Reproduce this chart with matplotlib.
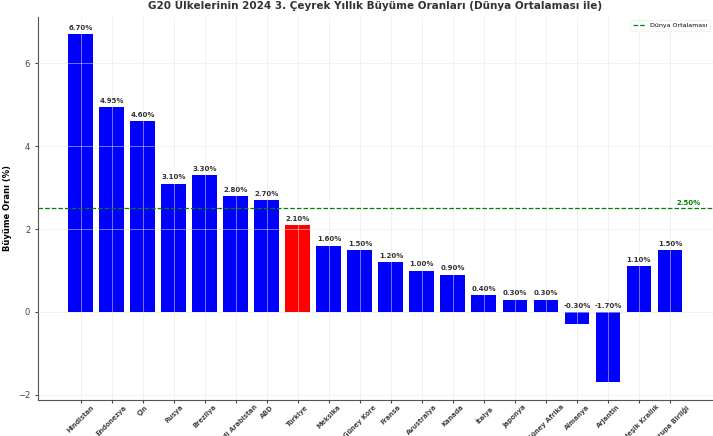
import numpy as np
import matplotlib
matplotlib.use("Agg")
import matplotlib.pyplot as plt

countries = ["Hindistan", "Endonezya", "Çin", "Rusya", "Brezilya", "Suudi Arabistan",
             "ABD", "Türkiye", "Meksika", "Güney Kore", "Fransa", "Avustralya", "Kanada",
             "İtalya", "Japonya", "Güney Afrika", "Almanya", "Arjantin",
             "Birleşik Krallık", "Avrupa Birliği"]
growth = [6.7, 4.95, 4.6, 3.1, 3.3, 2.8, 2.7, 2.1, 1.6, 1.5, 1.2, 1.0, 0.9,
          0.4, 0.3, 0.3, -0.3, -1.7, 1.1, 1.5]
world_avg = 2.5

colors = ["red" if c == "Türkiye" else "blue" for c in countries]

fig = plt.figure(figsize=(7.13, 4.36), dpi=100)
ax = fig.add_axes([0.053, 0.083, 0.947, 0.878])

x = np.arange(len(countries))
bars = ax.bar(x, growth, color=colors, width=0.8, zorder=1)
ax.grid(True, color="#e4e4e4", linewidth=0.6, alpha=0.6, zorder=2)
ax.set_axisbelow(False)

# ortalama çizgisi
ax.axhline(world_avg, color="green", linestyle="--", linewidth=0.9, label="Dünya Ortalaması", zorder=3)
ax.text(x[-1] + 0.6, world_avg + 0.05, f"{world_avg:.2f}%", color="green",
        fontsize=5, fontweight="bold", ha="center", va="bottom")

for b, v in zip(bars, growth):
    ax.text(b.get_x() + b.get_width() / 2, max(v, 0) + 0.08, f"{v:.2f}%",
            ha="center", va="bottom", fontsize=5, fontweight="bold", color="#333333")

ax.set_xticks(x)
ax.set_xticklabels(countries, rotation=45, fontsize=4.8, fontweight="bold")
ax.tick_params(axis="y", labelsize=6, length=2, colors="#444444")
ax.tick_params(axis="x", length=2, pad=1, colors="#444444")
ax.set_yticks([-2, 0, 2, 4, 6])
ax.set_ylabel("Büyüme Oranı (%)", fontsize=6, fontweight="bold")
ax.set_title("G20 Ülkelerinin 2024 3. Çeyrek Yıllık Büyüme Oranları (Dünya Ortalaması ile)",
             fontsize=7.5, fontweight="bold", color="#333333", pad=6)

for s in ["top", "right"]:
    ax.spines[s].set_visible(False)
for s in ["left", "bottom"]:
    ax.spines[s].set_color("#555555")
    ax.spines[s].set_linewidth(0.8)

ax.legend(loc="upper right", fontsize=4.5, frameon=True, edgecolor="#f0f0f0")

fig.savefig("out.png", dpi=100)
